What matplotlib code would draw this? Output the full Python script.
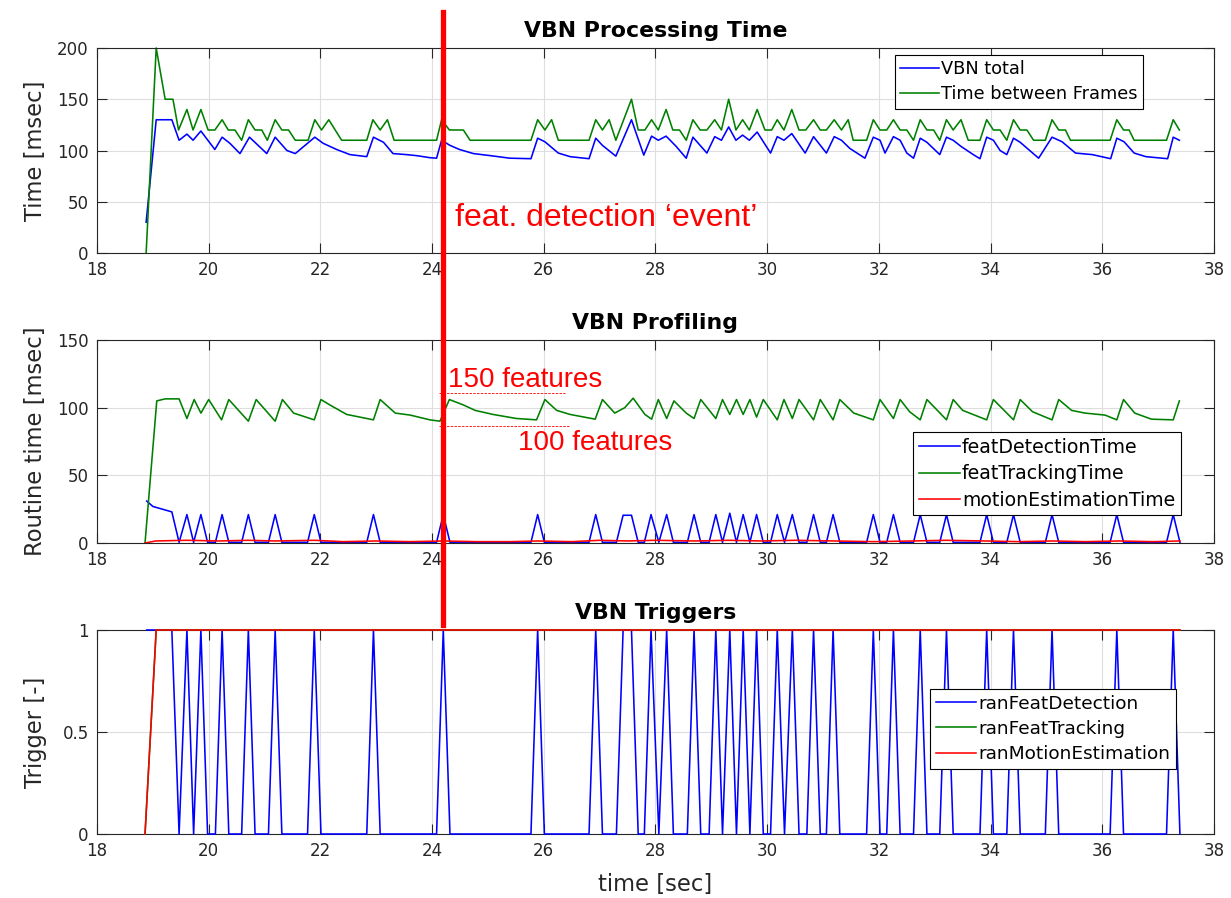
import matplotlib
matplotlib.use("Agg")
import matplotlib.pyplot as plt
from matplotlib.lines import Line2D
from matplotlib.ticker import FormatStrFormatter, FuncFormatter
from matplotlib.transforms import blended_transform_factory

# ---------------------------------------------------------------- data
# VBN processing time per frame [msec]
frame_t = [18.88, 19.06, 19.22, 19.36, 19.46, 19.61, 19.72, 19.86, 19.99, 20.11,
           20.24, 20.35, 20.47, 20.59, 20.71, 20.83, 20.95, 21.05, 21.19, 21.31,
           21.43, 21.55, 21.78, 21.90, 22.02, 22.15, 22.38, 22.83, 22.94, 23.07,
           23.20, 23.32, 24.08, 24.17, 24.31, 24.56, 24.68, 25.77, 25.89, 26.02,
           26.14, 26.26, 26.81, 26.93, 27.05, 27.17, 27.29, 27.57, 27.69, 27.81,
           27.93, 28.05, 28.19, 28.31, 28.43, 28.55, 28.67, 28.80, 28.92, 29.06,
           29.18, 29.31, 29.44, 29.56, 29.68, 29.82, 29.96, 30.08, 30.18, 30.30,
           30.44, 30.57, 30.69, 30.83, 30.95, 31.06, 31.20, 31.33, 31.45, 31.54,
           31.78, 31.90, 32.02, 32.14, 32.26, 32.38, 32.50, 32.62, 32.74, 32.86,
           32.98, 33.09, 33.21, 33.33, 33.47, 33.60, 33.81, 33.93, 34.05, 34.17,
           34.29, 34.41, 34.53, 34.65, 34.77, 34.98, 35.10, 35.22, 35.34, 35.43,
           36.14, 36.26, 36.38, 36.48, 36.57, 37.15, 37.27, 37.38]
frame_dt = [0, 200, 150, 150, 120, 140, 120, 140, 120, 120,
            130, 120, 120, 110, 130, 120, 120, 110, 130, 120,
            120, 110, 110, 130, 120, 130, 110, 110, 130, 120,
            130, 110, 110, 130, 120, 120, 110, 110, 130, 120,
            130, 110, 110, 130, 120, 130, 110, 150, 120, 120,
            130, 120, 140, 120, 120, 110, 130, 120, 120, 130,
            120, 150, 120, 130, 120, 140, 120, 120, 130, 120,
            140, 120, 120, 130, 120, 120, 130, 120, 130, 110,
            110, 130, 120, 120, 130, 120, 120, 110, 130, 120,
            120, 110, 130, 120, 130, 110, 110, 130, 120, 120,
            110, 130, 120, 120, 110, 110, 130, 120, 120, 110,
            110, 130, 120, 120, 110, 110, 130, 120]

vbn_t = [18.88, 19.06, 19.34, 19.47, 19.61, 19.72, 19.86, 20.11, 20.24, 20.38,
         20.56, 20.73, 21.04, 21.19, 21.40, 21.55, 21.90, 22.05, 22.29, 22.53,
         22.83, 22.95, 23.13, 23.30, 23.54, 23.72, 23.96, 24.08, 24.17, 24.32,
         24.49, 24.74, 25.04, 25.39, 25.77, 25.89, 26.02, 26.26, 26.47, 26.81,
         26.93, 27.05, 27.29, 27.57, 27.79, 27.93, 28.05, 28.19, 28.37, 28.55,
         28.67, 28.92, 29.06, 29.18, 29.31, 29.44, 29.56, 29.68, 29.82, 30.06,
         30.18, 30.30, 30.44, 30.68, 30.83, 31.06, 31.20, 31.33, 31.48, 31.75,
         31.90, 32.02, 32.11, 32.26, 32.38, 32.50, 32.62, 32.74, 32.86, 33.09,
         33.21, 33.33, 33.47, 33.69, 33.81, 33.93, 34.05, 34.17, 34.29, 34.41,
         34.53, 34.86, 35.10, 35.28, 35.52, 35.82, 36.15, 36.26, 36.39, 36.57,
         36.78, 37.17, 37.27, 37.38]
vbn_ms = [30, 130, 130, 110, 116, 110, 119, 101, 113, 107,
          97, 113, 97, 113, 100, 97, 113, 107, 101, 96,
          94, 113, 108, 97, 96, 95, 93, 92.5, 110, 105,
          101, 97, 95, 92.5, 92, 112, 108.5, 97.5, 94, 92,
          112, 105, 94.5, 130, 95.5, 114, 110, 114, 104, 92.5,
          113, 97.5, 113.5, 110, 123, 110, 115, 110, 118, 97.5,
          113.5, 110, 116.5, 97.5, 113.5, 97.5, 113.5, 110, 102, 92.5,
          113, 110, 97.5, 113.5, 110, 97.5, 92.5, 112, 108, 96,
          113, 110, 104, 96, 92, 113, 110, 100, 96, 112,
          108, 92.5, 113, 108.5, 97.5, 96, 92, 112, 108.5, 97.5,
          94, 92, 113, 110]

# VBN routine profiling [msec]
track_t = [18.86, 19.07, 19.22, 19.47, 19.61, 19.74, 19.86, 20.00, 20.23, 20.36,
           20.71, 20.85, 21.19, 21.32, 21.52, 21.89, 22.01, 22.17, 22.47, 22.95,
           23.07, 23.34, 23.61, 23.96, 24.14, 24.31, 24.56, 24.77, 25.09, 25.51,
           25.87, 26.02, 26.23, 26.47, 26.92, 27.05, 27.27, 27.45, 27.60, 27.81,
           27.93, 28.05, 28.20, 28.33, 28.55, 28.69, 28.81, 29.08, 29.20, 29.33,
           29.45, 29.57, 29.69, 29.81, 29.93, 30.18, 30.30, 30.45, 30.57, 30.83,
           30.95, 31.18, 31.30, 31.55, 31.90, 32.02, 32.26, 32.38, 32.55, 32.74,
           32.86, 33.21, 33.33, 33.50, 33.93, 34.05, 34.41, 34.53, 34.75, 35.10,
           35.22, 35.45, 35.69, 36.05, 36.26, 36.38, 36.58, 36.88, 37.27, 37.38]
track_ms = [0, 105, 106.5, 106.5, 92, 106, 96, 106, 91, 106,
            90, 106, 90, 106, 96, 91, 106, 102, 95, 91,
            106, 96, 94.5, 91, 90, 106, 102, 98, 95, 92,
            91, 106, 98, 95, 91.5, 106, 96, 100, 107, 95,
            91.5, 106, 92, 105, 96, 92, 106, 92, 106, 95,
            106, 95, 106, 93, 106, 91, 106, 92, 106, 91,
            106, 91, 106, 96, 91, 106, 92, 106, 97, 91,
            106, 91, 106, 98, 91, 106, 91, 106, 97, 91,
            106, 98, 96, 94.5, 91, 106, 96, 91.5, 91, 105]

det_t = [18.89, 19.00, 19.34, 19.47, 19.61, 19.73, 19.86, 19.98, 20.12, 20.24,
         20.36, 20.59, 20.71, 20.83, 21.07, 21.19, 21.31, 21.77, 21.89, 22.01,
         22.83, 22.95, 23.07, 24.08, 24.20, 24.32, 25.77, 25.89, 26.01, 26.81,
         26.93, 27.05, 27.30, 27.42, 27.57, 27.69, 27.80, 27.92, 28.06, 28.20,
         28.32, 28.57, 28.69, 28.81, 28.96, 29.08, 29.20, 29.33, 29.45, 29.57,
         29.69, 29.81, 29.93, 30.06, 30.18, 30.31, 30.45, 30.57, 30.71, 30.83,
         30.95, 31.06, 31.18, 31.30, 31.78, 31.90, 32.02, 32.14, 32.26, 32.38,
         32.62, 32.74, 32.86, 33.09, 33.21, 33.33, 33.81, 33.93, 34.05, 34.29,
         34.41, 34.53, 34.98, 35.10, 35.22, 36.14, 36.26, 36.38, 37.15, 37.27,
         37.39]
det_ms = [31, 27, 23, 0.5, 21, 0.5, 21, 0.5, 0.5, 21,
          0.5, 0.5, 21, 0.5, 0.5, 21, 0.5, 0.5, 21, 0.5,
          0.5, 21, 0.5, 0.5, 21, 0.5, 0.5, 21, 0.5, 0.5,
          21, 0.5, 0.5, 20.5, 20.5, 0.5, 0.5, 21, 0.5, 21,
          0.5, 0.5, 21, 0.5, 0.5, 21, 0.5, 22, 0.5, 21,
          0.5, 21, 0.5, 0.5, 21, 0.5, 21, 0.5, 0.5, 21,
          0.5, 0.5, 21, 0.5, 0.5, 21, 0.5, 0.5, 21, 0.5,
          0.5, 21, 0.5, 0.5, 21, 0.5, 0.5, 21, 0.5, 0.5,
          21, 0.5, 0.5, 21, 0.5, 0.5, 21, 0.5, 0.5, 21,
          0.5]

motion_t = [18.86, 19.05, 19.6, 20.2, 20.7, 21.2, 21.9, 22.4, 23.0, 23.6,
            24.2, 24.8, 25.4, 25.9, 26.5, 27.0, 27.5, 28.0, 28.7, 29.3,
            29.9, 30.5, 31.2, 31.9, 32.6, 33.2, 33.9, 34.5, 35.1, 35.7,
            36.3, 36.9, 37.39]
motion_ms = [0, 1.5, 2, 1.5, 2, 1.5, 2, 1, 1.5, 1,
             1.5, 1, 1, 1.5, 1, 2, 1.5, 2, 1.5, 2,
             1.5, 2, 1.5, 1, 1.5, 2, 1.5, 1, 1.5, 1,
             1.5, 1, 1.5]

# VBN triggers [-]
ran_det = [1, 1, 1, 0, 1, 0, 1, 0, 0, 1,
           0, 0, 1, 0, 0, 1, 0, 0, 1, 0,
           0, 1, 0, 0, 1, 0, 0, 1, 0, 0,
           1, 0, 0, 1, 1, 0, 0, 1, 0, 1,
           0, 0, 1, 0, 0, 1, 0, 1, 0, 1,
           0, 1, 0, 0, 1, 0, 1, 0, 0, 1,
           0, 0, 1, 0, 0, 1, 0, 0, 1, 0,
           0, 1, 0, 0, 1, 0, 0, 1, 0, 0,
           1, 0, 0, 1, 0, 0, 1, 0, 0, 1,
           0]
flag_t = [18.86, 19.06, 37.39]
ran_track = [0, 1, 1]
ran_motion = [0, 1, 1]

# annotation
event_t = 24.19
event_label = "feat. detection \u2018event\u2019"
feat_high_label, feat_high_level = "150 features", 110.6
feat_low_label, feat_low_level = "100 features", 86.5

# ---------------------------------------------------------------- style
plt.rcParams['font.family'] = ['DejaVu Sans']
BLUE, GREEN, RED = (0, 0, 1), (0, 0.5, 0), (1, 0, 0)
AXC = (0.15, 0.15, 0.15)
LW = 1.15
W_PX, H_PX = 1231, 898
TITLE_FS, LABEL_FS = 15.8, 16.3

fig = plt.figure(figsize=(W_PX / 100, H_PX / 100), dpi=100)
fig.patch.set_facecolor('white')


def panel(top_px, bot_px):
    return fig.add_axes([97 / W_PX, 1 - bot_px / H_PX, 1117 / W_PX,
                         (bot_px - top_px) / H_PX])


def style(ax, ymax, yticks, fmt):
    ax.set_xlim(18, 38)
    ax.set_xticks(range(18, 39, 2))
    ax.set_ylim(0, ymax)
    ax.set_yticks(yticks)
    ax.yaxis.set_major_formatter(fmt)
    ax.grid(True, color=(0.87, 0.87, 0.87), linewidth=0.8)
    ax.set_axisbelow(True)
    ax.tick_params(direction='in', top=True, right=True, length=7, width=0.8,
                   colors=AXC, labelsize=12, labelcolor=AXC, pad=6)
    for s in ax.spines.values():
        s.set_color(AXC)
        s.set_linewidth(0.8)


def legend(ax, anchor, fs):
    leg = ax.legend(loc='upper left', bbox_to_anchor=anchor, fancybox=False,
                    edgecolor='black', framealpha=1, fontsize=fs,
                    handlelength=2.2, handletextpad=0.1, borderpad=0.3,
                    labelspacing=0.4, borderaxespad=0)
    leg.get_frame().set_linewidth(0.8)
    leg.set_zorder(5)
    return leg


int_fmt = FormatStrFormatter('%d')
g_fmt = FuncFormatter(lambda v, p: f"{v:g}")

# ---- VBN Processing Time
ax1 = panel(48, 253)
ax1.plot(vbn_t, vbn_ms, color=BLUE, lw=LW, label='VBN total', clip_on=False)
ax1.plot(frame_t, frame_dt, color=GREEN, lw=LW, label='Time between Frames',
         clip_on=False)
style(ax1, 200, range(0, 201, 50), int_fmt)
ax1.set_title('VBN Processing Time', fontsize=TITLE_FS, fontweight='bold', pad=8)
ax1.set_ylabel('Time [msec]', fontsize=LABEL_FS, color=AXC)
ax1.yaxis.set_label_coords(-0.045, 0.5)
legend(ax1, ((895 - 97) / 1117, (253 - 55) / 205), 12.8)

# ---- VBN Profiling
ax2 = panel(340, 543)
ax2.plot(det_t, det_ms, color=BLUE, lw=LW, label='featDetectionTime')
ax2.plot(track_t, track_ms, color=GREEN, lw=LW, label='featTrackingTime')
ax2.plot(motion_t, motion_ms, color=RED, lw=LW, label='motionEstimationTime')
style(ax2, 150, range(0, 151, 50), int_fmt)
ax2.set_title('VBN Profiling', fontsize=TITLE_FS, fontweight='bold', pad=8)
ax2.set_ylabel('Routine time [msec]', fontsize=LABEL_FS, color=AXC)
ax2.yaxis.set_label_coords(-0.045, 0.5)
legend(ax2, ((913 - 97) / 1117, (543 - 432) / 203), 13.6)

ax2.plot([24.12, 26.38], [feat_high_level] * 2, color=RED, lw=0.6,
         ls=(0, (3, 1.5)))
ax2.plot([24.12, 26.47], [feat_low_level] * 2, color=RED, lw=0.6,
         ls=(0, (3, 1.5)))
ax2.text(24.28, 120.5, feat_high_label, color=RED, fontsize=20,
         family='Liberation Sans', va='center', ha='left')
ax2.text(25.54, 74, feat_low_label, color=RED, fontsize=20,
         family='Liberation Sans', va='center', ha='left')

# ---- VBN Triggers
ax3 = panel(630, 834)
ax3.plot(det_t, ran_det, color=BLUE, lw=LW, label='ranFeatDetection',
         clip_on=False, zorder=3)
ax3.plot(flag_t, ran_track, color=GREEN, lw=LW, label='ranFeatTracking',
         clip_on=False, zorder=3)
ax3.plot(flag_t, ran_motion, color=RED, lw=LW, label='ranMotionEstimation',
         clip_on=False, zorder=3)
style(ax3, 1, [0, 0.5, 1], g_fmt)
ax3.set_title('VBN Triggers', fontsize=TITLE_FS, fontweight='bold', pad=8)
ax3.set_ylabel('Trigger [-]', fontsize=LABEL_FS, color=AXC)
ax3.yaxis.set_label_coords(-0.045, 0.5)
ax3.set_xlabel('time [sec]', fontsize=LABEL_FS, color=AXC)
ax3.xaxis.set_label_coords(0.5, -0.19)
legend(ax3, ((930 - 97) / 1117, (834 - 689) / 204), 13.3)

# ---- detection event marker across panels
trans = blended_transform_factory(ax1.transData, fig.transFigure)
fig.add_artist(Line2D([event_t, event_t], [1 - 625 / H_PX, 1 - 12 / H_PX],
                      transform=trans, color=RED, lw=3.8, zorder=20))
ax1.text(24.41, 34, event_label, color=RED, fontsize=23,
         family='Liberation Sans', va='center', ha='left', zorder=20)

fig.savefig('out.png', dpi=100)
